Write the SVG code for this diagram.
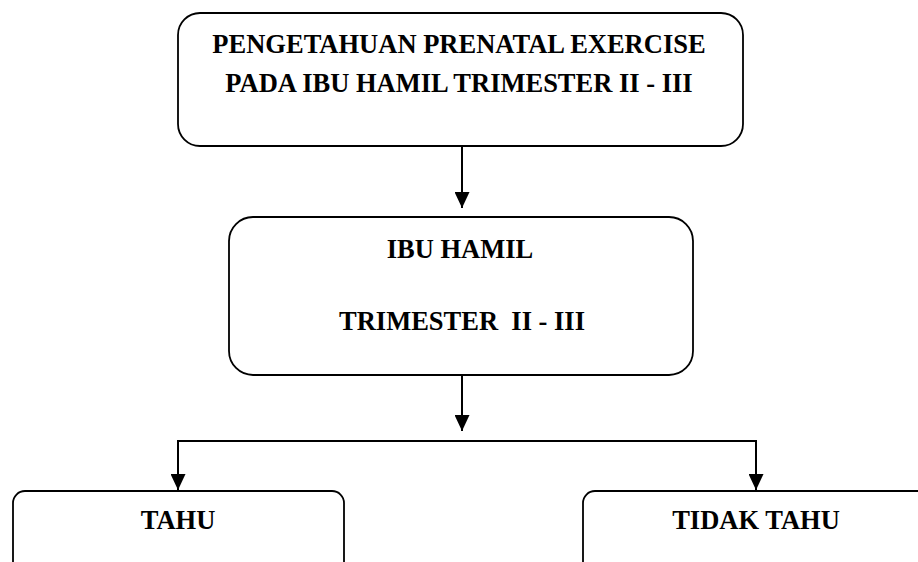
<svg xmlns="http://www.w3.org/2000/svg" width="918" height="562" viewBox="0 0 918 562">
<defs>
<style>
.box{fill:#fff;stroke:#000;stroke-width:1.8}
.t{font-family:"Liberation Serif","Times New Roman",serif;font-weight:bold;font-size:26.5px;fill:#000;text-anchor:middle}
.c{fill:none;stroke:#000;stroke-width:2}
</style>
<marker id="ah" viewBox="0 0 16 15" refX="16" refY="7.5" markerWidth="16" markerHeight="15" markerUnits="userSpaceOnUse" orient="auto">
<path d="M0,0 L16,7.5 L0,15 Z" fill="#000"/>
</marker>
</defs>
<rect width="918" height="562" fill="#fff"/>
<g id="connectors">
<line class="c" x1="462" y1="146" x2="462" y2="208" marker-end="url(#ah)"/>
<line class="c" x1="462" y1="375" x2="462" y2="431" marker-end="url(#ah)"/>
<polyline class="c" points="178,441 756,441"/>
<line class="c" x1="178" y1="440" x2="178" y2="490" marker-end="url(#ah)"/>
<line class="c" x1="756" y1="440" x2="756" y2="490" marker-end="url(#ah)"/>
</g>
<g id="node-top">
<rect class="box" x="178" y="13" width="565" height="133" rx="22"/>
<text class="t" x="459" y="53">PENGETAHUAN PRENATAL EXERCISE</text>
<text class="t" x="459" y="92">PADA IBU HAMIL TRIMESTER II - III</text>
</g>
<g id="node-mid">
<rect class="box" x="229" y="217" width="464" height="158" rx="24"/>
<text class="t" x="460" y="258">IBU HAMIL</text>
<text class="t" x="462" y="330" xml:space="preserve">TRIMESTER  II - III</text>
</g>
<g id="node-tahu">
<rect class="box" x="13" y="491" width="331" height="90" rx="12"/>
<text class="t" x="178" y="529">TAHU</text>
</g>
<g id="node-tidak">
<rect class="box" x="583" y="491" width="350" height="90" rx="12"/>
<text class="t" x="756" y="529">TIDAK TAHU</text>
</g>
</svg>
